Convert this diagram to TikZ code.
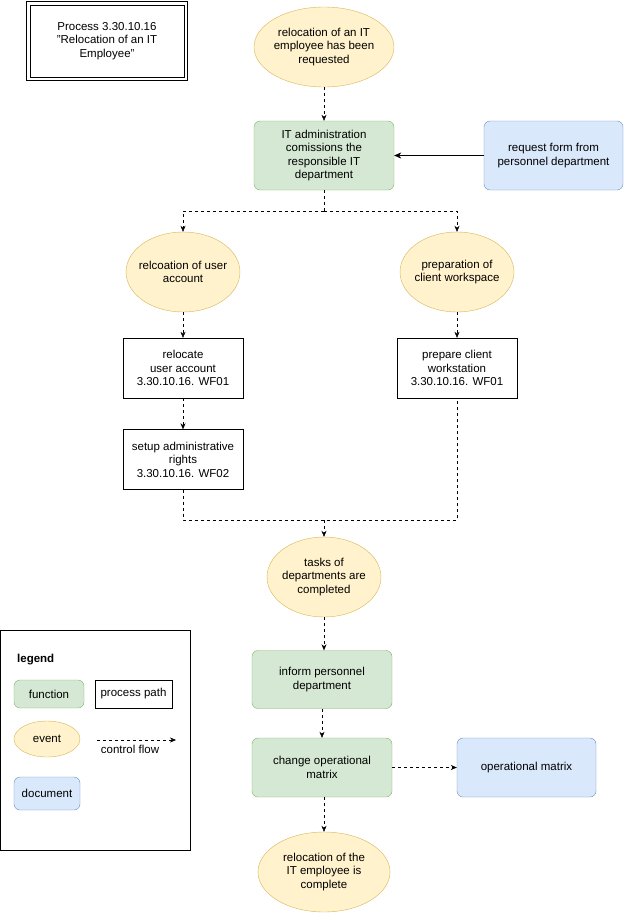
\documentclass[tikz,border=0pt]{standalone}
\usepackage{fontspec}
\setmainfont{Liberation Sans}
\usetikzlibrary{shapes.geometric,arrows.meta}
\definecolor{evfill}{HTML}{FFF2CC}\definecolor{evline}{HTML}{D6B656}
\definecolor{fnfill}{HTML}{D5E8D4}\definecolor{fnline}{HTML}{82B366}
\definecolor{docfill}{HTML}{DAE8FC}\definecolor{docline}{HTML}{6C8EBF}
\tikzset{
  every node/.style={font=\fontsize{11.5pt}{13.5pt}\selectfont, align=center, inner sep=1pt},
  event/.style={ellipse, draw=evline, fill=evfill, inner sep=-8pt, minimum width=114pt, minimum height=80pt},
  func/.style={rectangle, rounded corners=6pt, draw=fnline, fill=fnfill, minimum width=140pt, minimum height=58pt},
  doc/.style={rectangle, rounded corners=6pt, draw=docline, fill=docfill, minimum width=139pt, minimum height=69pt},
  path/.style={rectangle, draw, minimum width=120pt, minimum height=60pt},
  flow/.style={dashed, -{Stealth[length=6pt,width=5pt]}},
  link/.style={dashed}
}
\begin{document}
\begin{tikzpicture}[x=1pt,y=-1pt]
	\useasboundingbox (0,0) rectangle (624,913);
	\node [draw, line width=0.8pt, minimum width=154pt, minimum height=72pt] (title) at (107,41) {Process 3.30.10.16\\"Relocation of an IT\\Employee"};
	\draw [line width=0.8pt] ([shift={(-3pt,3pt)}]title.north west) rectangle ([shift={(3pt,-3pt)}]title.south east);
	\node [event, minimum width=140pt] (ev start) at (324,47) {relocation of an IT\\employee has been\\requested};
	\node [func, minimum height=69pt] (fn commission) at (324,155.5) {IT administration\\comissions the\\responsible IT\\department};
	\node [doc] (doc request) at (553.5,155.5) {request form from\\personnel department};
	\node [event] (ev account) at (183,272) {relcoation of user\\account};
	\node [event] (ev client) at (457,272) {preparation of\\client workspace};
	\node [path] (pp relocate) at (183,368) {relocate\\user account\\3.30.10.16. WF01};
	\node [path] (pp prepare) at (457,368) {prepare client\\workstation\\3.30.10.16. WF01};
	\node [path] (pp rights) at (183,459.5) {setup administrative\\rights\\3.30.10.16. WF02};
	\node [event] (ev tasks) at (324,577) {tasks of\\departments are\\completed};
	\node [func] (fn inform) at (322,679.5) {inform personnel\\department};
	\node [func, minimum height=59pt] (fn matrix) at (322,767.5) {change operational\\matrix};
	\node [doc, minimum height=59pt] (doc matrix) at (526.5,767.5) {operational matrix};
	\node [event, minimum width=132pt] (ev end) at (324,872) {relocation of the\\IT employee is\\complete};
	\coordinate (split) at (324,211);
	\coordinate (split l) at (183,211);
	\coordinate (split r) at (457,211);
	\coordinate (join) at (324,520);
	\coordinate (join l) at (183,520);
	\coordinate (join r) at (457,520);

	\draw [flow] (ev start) -- (fn commission);
	\draw [-{Stealth[length=7pt,width=6pt]}] (doc request) -- (fn commission);
	\draw [link] (fn commission) -- (split);
	\draw [flow] (split) -- (split l) -- (ev account);
	\draw [flow] (split) -- (split r) -- (ev client);
	\draw [flow] (ev account) -- (pp relocate);
	\draw [flow] (ev client) -- (pp prepare);
	\draw [flow] (pp relocate) -- (pp rights);
	\draw [link] (pp rights) -- (join l) -- (join r) -- (pp prepare);
	\draw [flow] (join) -- (ev tasks);
	\draw [flow] (ev tasks.south) -- (fn inform.north -| ev tasks.south);
	\draw [flow] (fn inform) -- (fn matrix);
	\draw [flow] (fn matrix) -- (doc matrix);
	\draw [flow] (fn matrix.south -| ev end.north) -- (ev end);

	% legend
	\node [draw, minimum width=190pt, minimum height=220pt] (legend) at (95,740) {};
	\node [font=\bfseries\fontsize{11.5pt}{13.5pt}\selectfont, anchor=west] (legend title) at (16,660) {legend};
	\node [func, minimum width=70pt, minimum height=28pt] (lg func) at (49,694) {function};
	\node [path, minimum width=77pt, minimum height=28pt] (lg path) at (133.5,694) {process path};
	\node [event, minimum width=66pt, minimum height=36pt] (lg event) at (47,739) {event};
	\node [doc, minimum width=66pt, minimum height=33pt] (lg doc) at (47,793.5) {document};
	\coordinate (lg flow a) at (97,740);
	\coordinate (lg flow b) at (176,740);
	\node (lg flow) at (130,749) {control flow};
	\draw [flow] (lg flow a) -- (lg flow b);
\end{tikzpicture}
\end{document}
